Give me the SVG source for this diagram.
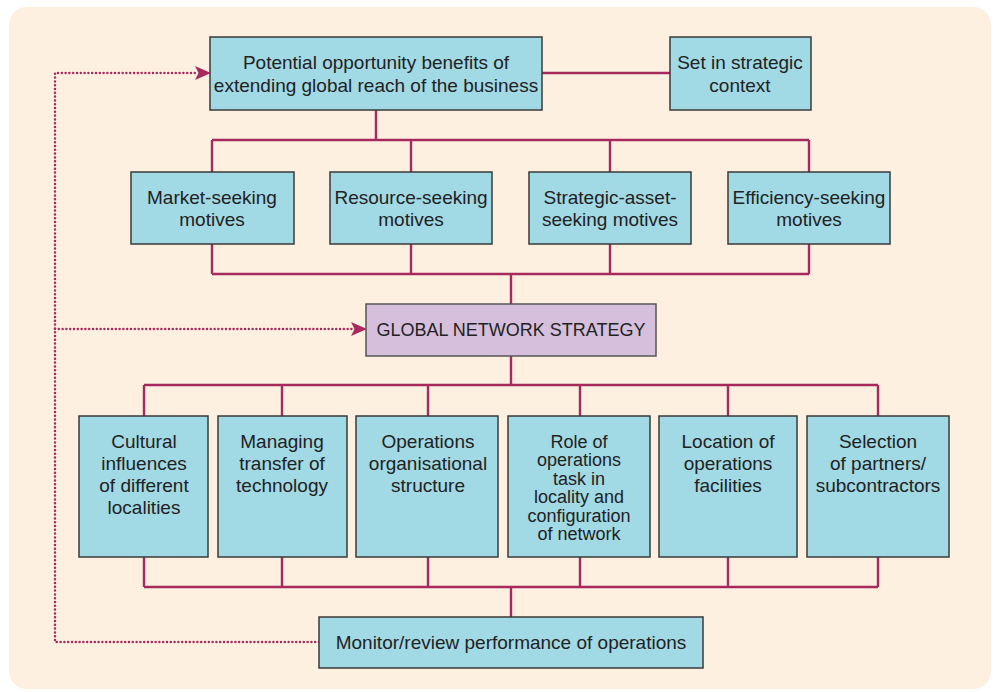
<svg xmlns="http://www.w3.org/2000/svg" width="996" height="692" viewBox="0 0 996 692">
<style>
.box{fill:#a1d9e5;stroke:#3a3a3a;stroke-width:1.5}
.gns{fill:#d5bfdc;stroke:#555;stroke-width:1.5}
.t{font-family:"Liberation Sans",Arial,sans-serif;font-size:19px;fill:#222;text-anchor:middle}
.s{font-size:18px}
.c{fill:none;stroke:#a72a5e;stroke-width:2.4}
.d{fill:none;stroke:#a72a5e;stroke-width:2.5;stroke-dasharray:0 3.8;stroke-linecap:round}
</style>
<defs>
<marker id="ah" viewBox="0 0 16 14" markerWidth="16" markerHeight="14" refX="15" refY="7" orient="auto" markerUnits="userSpaceOnUse">
<path d="M0,0 L16,7 L0,14 L3.5,7 Z" fill="#a72a5e"/>
</marker>
</defs>
<rect x="0" y="0" width="996" height="692" fill="#ffffff"/>
<rect x="9" y="7" width="982" height="682" rx="18" fill="#fdf0e1"/>
<g id="connectors">
<path class="c" d="M542,73 H670"/>
<path class="c" d="M376,110 V140 M212,140 H809 M212,140 V172 M411,140 V172 M610,140 V172 M809,140 V172"/>
<path class="c" d="M212,244 V274 M411,244 V274 M610,244 V274 M809,244 V274 M212,274 H809 M511,274 V304"/>
<path class="c" d="M511,356 V385 M144,385 H878 M144,385 V416 M282,385 V416 M428,385 V416 M580,385 V416 M728,385 V416 M878,385 V416"/>
<path class="c" d="M144,557 V587 M282,557 V587 M428,557 V587 M580,557 V587 M728,557 V587 M878,557 V587 M144,587 H878 M511,587 V617"/>
<path class="d" d="M319,642 H55 V73 H196"/>
<path class="d" d="M55,329 H352"/>
<path fill="none" stroke="none" d="M196,73 H210" marker-end="url(#ah)"/>
<path fill="none" stroke="none" d="M352,329 H366" marker-end="url(#ah)"/>
</g>
<g id="n-potential"><rect class="box" x="210" y="37" width="332" height="73"/>
<text class="t" x="376" y="69">Potential opportunity benefits of</text>
<text class="t" x="376" y="92">extending global reach of the business</text></g>
<g id="n-context"><rect class="box" x="670" y="37" width="141" height="73"/>
<text class="t" x="740" y="69">Set in strategic</text>
<text class="t" x="740" y="92">context</text></g>
<g id="n-market"><rect class="box" x="131" y="172" width="163" height="72"/>
<text class="t" x="212" y="204">Market-seeking</text>
<text class="t" x="212" y="226">motives</text></g>
<g id="n-resource"><rect class="box" x="330" y="172" width="162" height="72"/>
<text class="t" x="411" y="204">Resource-seeking</text>
<text class="t" x="411" y="226">motives</text></g>
<g id="n-strategic"><rect class="box" x="529" y="172" width="162" height="72"/>
<text class="t" x="610" y="204">Strategic-asset-</text>
<text class="t" x="610" y="226">seeking motives</text></g>
<g id="n-efficiency"><rect class="box" x="728" y="172" width="162" height="72"/>
<text class="t" x="809" y="204">Efficiency-seeking</text>
<text class="t" x="809" y="226">motives</text></g>
<g id="n-gns"><rect class="gns" x="366" y="304" width="290" height="52"/>
<text class="t s" x="511" y="336">GLOBAL NETWORK STRATEGY</text></g>
<g id="n-cultural"><rect class="box" x="79" y="416" width="129" height="141"/>
<text class="t" x="144" y="448">Cultural</text>
<text class="t" x="144" y="470">influences</text>
<text class="t" x="144" y="492">of different</text>
<text class="t" x="144" y="514">localities</text></g>
<g id="n-managing"><rect class="box" x="218" y="416" width="129" height="141"/>
<text class="t" x="282" y="448">Managing</text>
<text class="t" x="282" y="470">transfer of</text>
<text class="t" x="282" y="492">technology</text></g>
<g id="n-orgstruct"><rect class="box" x="356" y="416" width="142" height="141"/>
<text class="t" x="428" y="448">Operations</text>
<text class="t" x="428" y="470">organisational</text>
<text class="t" x="428" y="492">structure</text></g>
<g id="n-role"><rect class="box" x="508" y="416" width="142" height="141"/>
<text class="t s" x="579" y="447.5">Role of</text>
<text class="t s" x="579" y="466">operations</text>
<text class="t s" x="579" y="484.5">task in</text>
<text class="t s" x="579" y="503">locality and</text>
<text class="t s" x="579" y="521.5">configuration</text>
<text class="t s" x="579" y="540">of network</text></g>
<g id="n-location"><rect class="box" x="659" y="416" width="138" height="141"/>
<text class="t" x="728" y="448">Location of</text>
<text class="t" x="728" y="470">operations</text>
<text class="t" x="728" y="492">facilities</text></g>
<g id="n-selection"><rect class="box" x="807" y="416" width="142" height="141"/>
<text class="t" x="878" y="448">Selection</text>
<text class="t" x="878" y="470">of partners/</text>
<text class="t" x="878" y="492">subcontractors</text></g>
<g id="n-monitor"><rect class="box" x="319" y="617" width="384" height="51"/>
<text class="t" x="511" y="649">Monitor/review performance of operations</text></g>
</svg>
